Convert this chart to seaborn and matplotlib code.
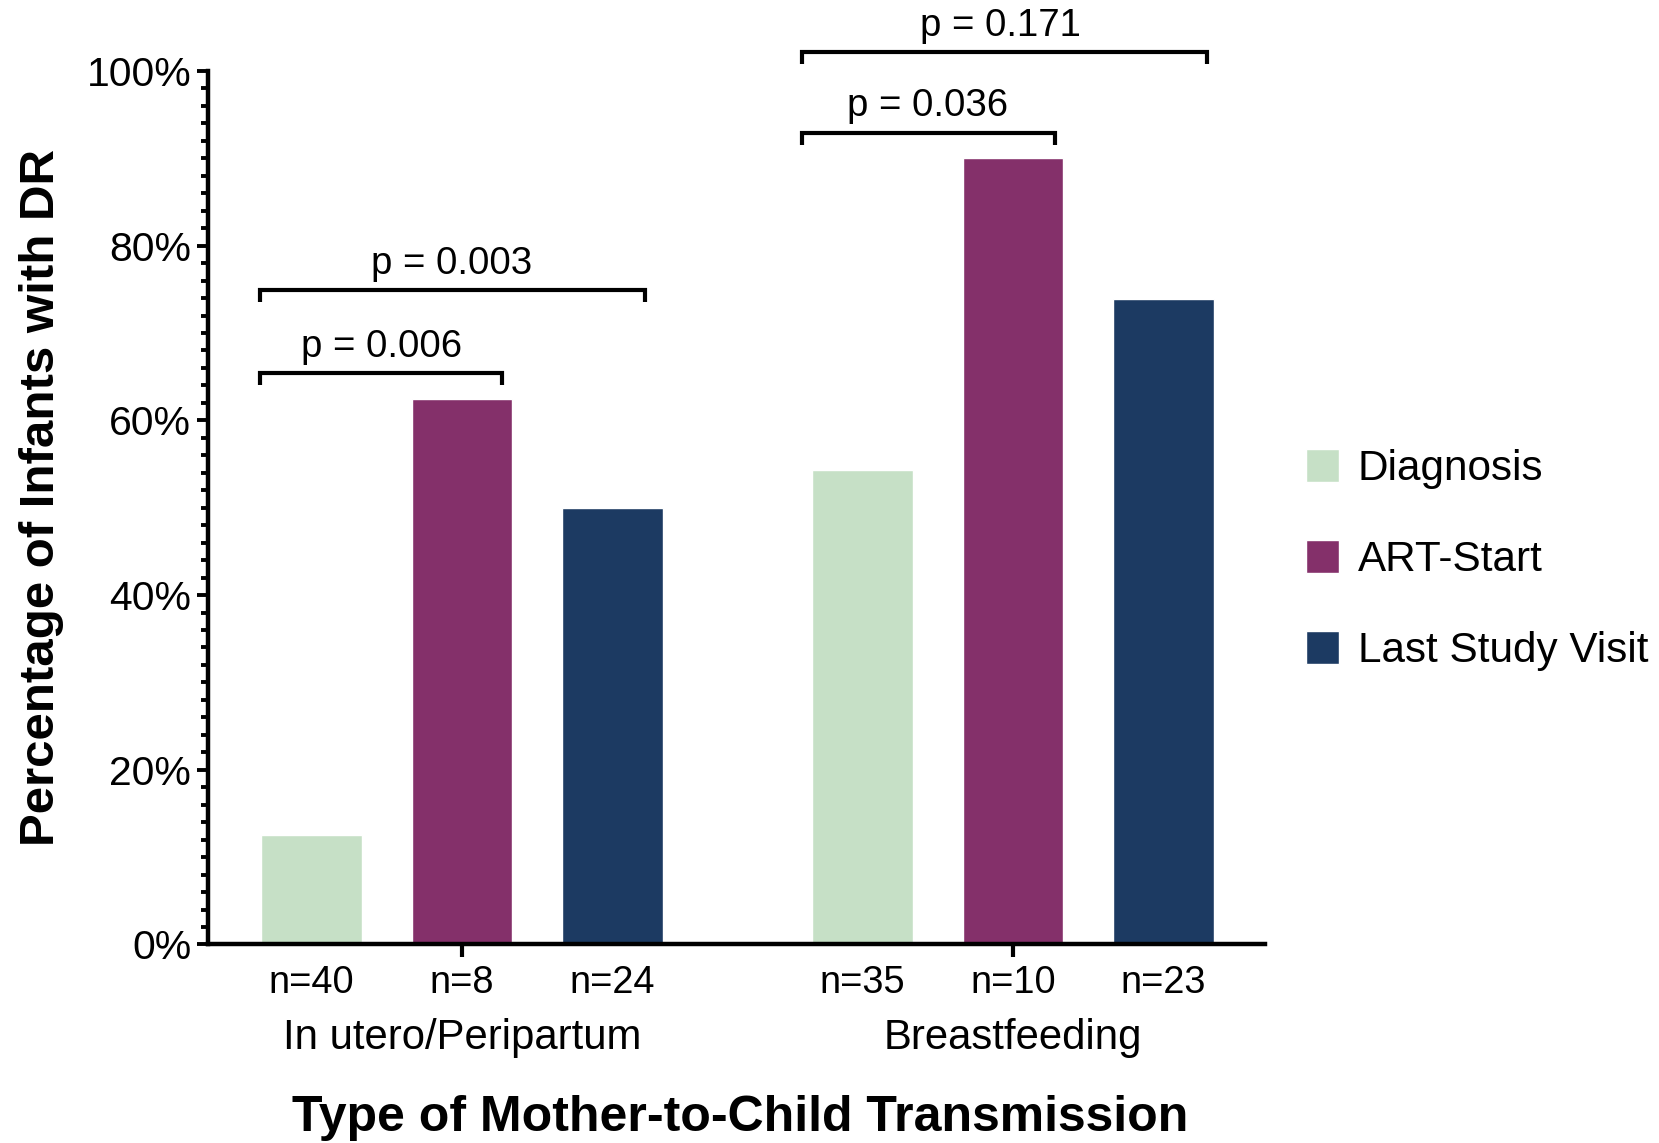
import matplotlib
matplotlib.use("Agg")
import pandas as pd
import matplotlib.pyplot as plt
import seaborn as sns
from matplotlib.ticker import MultipleLocator, PercentFormatter

# Data
groups = ["In utero/Peripartum", "Breastfeeding"]
phases = ["Diagnosis", "ART-Start", "Last Study Visit"]
pct_utero = [12.5, 62.5, 50.0]
pct_breast = [54.3, 90.0, 73.9]
n_utero = [40, 8, 24]
n_breast = [35, 10, 23]
colors = ["#C6E0C6", "#84306A", "#1C3A62"]

# p-value brackets: (x start, x end, line height, text x, text baseline, label)
brackets = [
    (-0.366, 0.072, 65.4, -0.147, 67.3, "p = 0.006"),
    (-0.366, 0.332, 74.9, -0.019, 76.8, "p = 0.003"),
    (0.617, 1.077, 92.9, 0.845, 94.8, "p = 0.036"),
    (0.617, 1.352, 102.2, 0.977, 104.0, "p = 0.171"),
]

rows = []
for g, pcts, ns in zip(groups, [pct_utero, pct_breast], [n_utero, n_breast]):
    for ph, p, n in zip(phases, pcts, ns):
        rows.append({"group": g, "phase": ph, "pct": p, "n": n})
df = pd.DataFrame(rows)

sns.set_theme(style="ticks", rc={"text.color": "black", "axes.labelcolor": "black",
                                 "xtick.color": "black", "ytick.color": "black"})
plt.rcParams['font.family'] = ['Liberation Sans', 'DejaVu Sans']

fig = plt.figure(figsize=(16.59, 11.43), dpi=100)
ax = fig.add_axes([0.1254, 0.1737, 0.637, 0.7642])

sns.barplot(data=df, x="group", y="pct", hue="phase", order=groups,
            hue_order=phases, palette=colors, saturation=1, width=0.82,
            gap=0.33, errorbar=None, ax=ax)

ax.set_xlim(-0.461, 1.457)
ax.set_ylim(0, 100)
ax.yaxis.set_major_locator(MultipleLocator(20))
ax.yaxis.set_minor_locator(MultipleLocator(2))
ax.yaxis.set_major_formatter(PercentFormatter(decimals=0))

sns.despine(ax=ax)
for side in ["left", "bottom"]:
    ax.spines[side].set_linewidth(3.2)
    ax.spines[side].set_color("black")

ax.tick_params(axis="y", which="major", length=8, width=2.8, labelsize=29.4, pad=4)
ax.tick_params(axis="y", which="minor", length=5, width=2.8)
ax.tick_params(axis="x", which="major", length=9, width=3, labelsize=30.2, pad=44)

# n labels under each bar
ns_all = [n_utero, n_breast]
for i, cont in enumerate(ax.containers):
    for j, bar in enumerate(cont):
        xc = bar.get_x() + bar.get_width() / 2
        ax.text(xc, -0.0558, f"n={ns_all[j][i]}", transform=ax.get_xaxis_transform(),
                ha="center", va="baseline", fontsize=27.4)

# significance brackets
drop = 1.4
for x1, x2, y, tx, ty, label in brackets:
    ax.plot([x1, x1, x2, x2], [y - drop, y, y, y - drop], color="black", lw=3,
            clip_on=False, solid_joinstyle="miter", solid_capstyle="butt")
    ax.text(tx, ty, label, ha="center", va="baseline", fontsize=27.6, clip_on=False)

ax.set_xlabel("Type of Mother-to-Child Transmission", fontsize=36, fontweight="bold")
ax.xaxis.set_label_coords(0.504, -0.213)
ax.xaxis.label.set_verticalalignment("baseline")
ax.set_ylabel("Percentage of Infants with DR", fontsize=35.5, fontweight="bold")
ax.yaxis.set_label_coords(-0.1453, 0.512)
ax.yaxis.label.set_verticalalignment("baseline")

handles, labels = ax.get_legend_handles_labels()
ax.legend(handles, labels, loc="center left", bbox_to_anchor=(1306 / 1659, 1 - 560 / 1143),
          bbox_transform=fig.transFigure, frameon=False, fontsize=30.4,
          handlelength=0.78, handleheight=0.83, handletextpad=0.45,
          labelspacing=1.2, borderpad=0, borderaxespad=0)

fig.savefig("out.png", dpi=100)
